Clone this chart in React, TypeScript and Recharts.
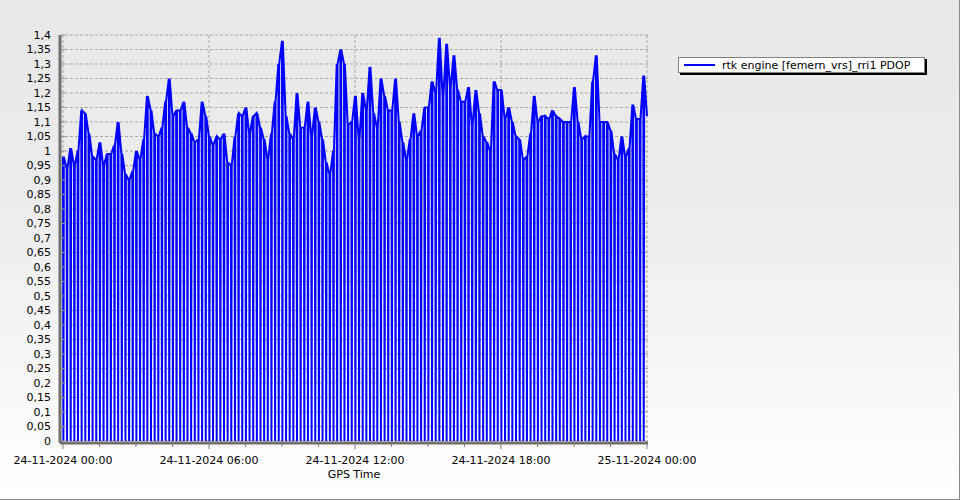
import React from 'react';
import {
  LineChart,
  Line,
  XAxis,
  YAxis,
  CartesianGrid,
  ReferenceLine,
  Legend,
  Label
} from 'recharts';

// PDOP, one value per 9 minute sample, 24-11-2024 00:00 .. 25-11-2024 00:00
const sampleStepMin = 9;
const pdopValues: number[] = [
  0.98, 0.94, 1.01, 0.95, 1.0, 1.14, 1.13, 1.06, 0.98, 0.97,
  1.03, 0.95, 0.99, 0.99, 1.02, 1.1, 0.99, 0.92, 0.9, 0.93,
  1.0, 0.97, 1.04, 1.19, 1.14, 1.06, 1.05, 1.08, 1.17, 1.25,
  1.12, 1.14, 1.14, 1.17, 1.08, 1.06, 1.03, 1.04, 1.17, 1.12,
  1.05, 1.02, 1.05, 1.04, 1.06, 0.96, 0.95, 1.05, 1.13, 1.12,
  1.15, 1.06, 1.12, 1.13, 1.08, 1.04, 0.97, 1.06, 1.17, 1.3,
  1.38, 1.12, 1.06, 1.04, 1.2, 1.08, 1.08, 1.17, 1.05, 1.15,
  1.1, 1.04, 0.96, 0.92, 1.0, 1.3, 1.35, 1.3, 1.09, 1.1,
  1.19, 1.04, 1.2, 1.14, 1.29, 1.13, 1.08, 1.25, 1.19, 1.14,
  1.14, 1.25, 1.1, 1.03, 0.97, 1.04, 1.13, 1.05, 1.07, 1.15,
  1.15, 1.24, 1.2, 1.39, 1.19, 1.37, 1.22, 1.33, 1.21, 1.17,
  1.17, 1.22, 1.09, 1.21, 1.13, 1.05, 1.03, 1.0, 1.24, 1.21,
  1.21, 1.11, 1.15, 1.1, 1.05, 1.04, 0.97, 0.98, 1.06, 1.19,
  1.1, 1.12, 1.12, 1.11, 1.14, 1.12, 1.11, 1.1, 1.1, 1.1,
  1.22, 1.1, 1.04, 1.05, 1.05, 1.24, 1.33, 1.1, 1.1, 1.1,
  1.07, 0.99, 0.97, 1.05, 0.98, 1.01, 1.16, 1.11, 1.11, 1.26,
  1.12
];

const xTicks = [0, 90, 180, 270, 360, 450, 540, 630, 720, 810, 900, 990, 1080, 1170, 1260, 1350, 1440];
const xMajorTicks = [0, 360, 720, 1080, 1440];
const xTickLabels = [
  '24-11-2024 00:00',
  '24-11-2024 06:00',
  '24-11-2024 12:00',
  '24-11-2024 18:00',
  '25-11-2024 00:00'
];
const yTicks = [
  0, 0.05, 0.1, 0.15, 0.2, 0.25, 0.3, 0.35, 0.4, 0.45, 0.5, 0.55, 0.6, 0.65, 0.7,
  0.75, 0.8, 0.85, 0.9, 0.95, 1, 1.05, 1.1, 1.15, 1.2, 1.25, 1.3, 1.35, 1.4
];
const seriesName = 'rtk engine [femern_vrs]_rri1 PDOP';

const FONT = '"DejaVu Sans", Verdana, sans-serif';
const BLUE = '#0000ff';

// every sample is followed by a dropout to 0, which is what draws the comb
const chartData = pdopValues.flatMap((v, i) => {
  const t = i * sampleStepMin;
  if (i === pdopValues.length - 1) return [{ t, pdop: v }];
  return [
    { t, pdop: v },
    { t: t + 1, pdop: 0 },
    { t: t + 2, pdop: v }
  ];
});

const fmtY = (v: number) => String(Math.round(v * 100) / 100).replace('.', ',');

const XTick = (props: any) => {
  const { x, y, payload } = props;
  const idx = xMajorTicks.indexOf(payload.value);
  const major = idx >= 0;
  return (
    <g>
      <line x1={x} x2={x} y1={y + 1} y2={y + (major ? 6 : 4)} stroke="#808080" />
      {major && (
        <text x={x} y={y + 21} textAnchor="middle" fontSize={11} fontFamily={FONT} fill="#000">
          {xTickLabels[idx]}
        </text>
      )}
    </g>
  );
};

const YTick = (props: any) => {
  const { x, y, payload } = props;
  return (
    <g>
      <line x1={x + 2} x2={x + 5} y1={y} y2={y} stroke="#999" />
      <text x={x - 9} y={y + 4} textAnchor="end" fontSize={11} fontFamily={FONT} fill="#000">
        {fmtY(payload.value)}
      </text>
    </g>
  );
};

const LegendBox = () => (
  <div
    style={{
      width: 245,
      height: 14,
      background: '#fff',
      border: '1px solid #808080',
      boxShadow: '2px 2px 0 #000',
      display: 'flex',
      alignItems: 'center',
      fontFamily: FONT,
      fontSize: 11,
      color: '#000',
      whiteSpace: 'nowrap'
    }}
  >
    <span style={{ display: 'inline-block', width: 31, height: 2, background: BLUE, marginLeft: 5, marginRight: 7 }} />
    <span>{seriesName}</span>
  </div>
);

export default function App() {
  return (
    <div
      style={{
        position: 'absolute',
        left: 0,
        top: 0,
        width: 959,
        height: 499,
        borderRight: '1px solid #8a8a8a',
        borderBottom: '1px solid #8a8a8a',
        background: 'linear-gradient(to bottom, #e8e8e8 0%, #ececec 40%, #ffffff 100%)'
      }}
    >
      <LineChart
        width={959}
        height={499}
        data={chartData}
        margin={{ top: 35, right: 311, bottom: 0, left: 0 }}
      >
        <CartesianGrid vertical={false} stroke="#a8a8a8" strokeDasharray="3 2" />
        {xMajorTicks.map(t => (
          <ReferenceLine key={t} x={t} stroke="#a8a8a8" strokeDasharray="3 2" />
        ))}
        <XAxis
          dataKey="t"
          type="number"
          domain={[-7.4, 1442.5]}
          allowDataOverflow
          ticks={xTicks}
          interval={0}
          height={56}
          tickSize={0}
          tickMargin={0}
          tick={<XTick />}
          axisLine={{ stroke: '#707070', strokeWidth: 3 }}
        >
          <Label value="GPS Time" position="insideBottom" offset={21} fontSize={11} fontFamily={FONT} fill="#000" />
        </XAxis>
        <YAxis
          type="number"
          domain={[-0.007, 1.4]}
          allowDataOverflow
          ticks={yTicks}
          interval={0}
          width={60}
          tickSize={0}
          tickMargin={0}
          tick={<YTick />}
          axisLine={{ stroke: '#707070', strokeWidth: 3 }}
        />
        <Legend
          layout="horizontal"
          verticalAlign="middle"
          align="center"
          content={() => <LegendBox />}
          wrapperStyle={{ position: 'absolute', left: 678, top: 57, width: 250, height: 18 }}
        />
        <Line
          type="linear"
          dataKey="pdop"
          name={seriesName}
          stroke={BLUE}
          strokeWidth={2}
          dot={false}
          activeDot={false}
          isAnimationActive={false}
        />
      </LineChart>
    </div>
  );
}
